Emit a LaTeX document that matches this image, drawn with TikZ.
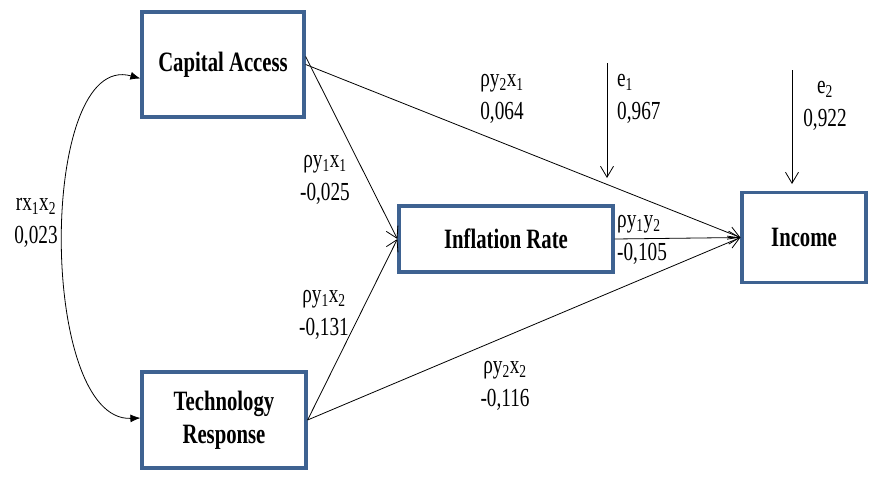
\documentclass[tikz,border=0pt]{standalone}
\usepackage{fontspec}
\setmainfont[FakeStretch=0.74]{Liberation Serif}
\usetikzlibrary{arrows.meta,calc}
\definecolor{boxblue}{RGB}{62,98,145}
\begin{document}
\begin{tikzpicture}[x=1pt,y=-1pt,
  varbox/.style={draw=boxblue,line width=3.2pt,fill=white,align=center,inner sep=0pt,
    font=\fontsize{28}{33}\selectfont\bfseries},
  path/.style={line width=0.8pt,-{Straight Barb[length=11pt,width=13pt]}},
  lab/.style={align=center,inner sep=0pt,font=\fontsize{26}{33}\selectfont},
  labl/.style={align=left,inner sep=0pt,anchor=west,font=\fontsize{26}{33}\selectfont}]
\useasboundingbox (0,0) rectangle (876,477);
\node[varbox,minimum width=162pt,minimum height=105pt] (ca) at (223,64.5) {Capital Access};
\node[varbox,minimum width=214pt,minimum height=66pt] (inf) at (506,239) {Inflation Rate};
\node[varbox,minimum width=124pt,minimum height=90pt] (inc) at (804,237.5) {Income};
\node[varbox,minimum width=164pt,minimum height=96pt] (tr) at (224,420) {Technology\\Response};
% correlation
\draw[line width=0.8pt,{Latex[length=10pt,width=8pt]}-{Latex[length=10pt,width=8pt]}]
  ([yshift=-14pt]ca.west) .. controls (38,50) and (38,422) .. ([yshift=2pt]tr.west);
% paths
\draw[path] (ca.east) -- (inc.west);
\draw[path] ([yshift=8pt]ca.east) -- (inf.west);
\draw[path] (tr.east) -- (inf.west);
\draw[path] (tr.east) -- (inc.west);
\draw[path] (inf.east) -- (inc.west);
% residuals
\coordinate (e1s) at (607,63);
\coordinate (e1e) at (607,178);
\coordinate (e2s) at (792,70);
\coordinate (e2e) at (792,184);
\draw[path] (e1s) -- (e1e);
\draw[path] (e2s) -- (e2e);
% labels
\node[lab] (lr) at (36,223) {rx\textsubscript{1}x\textsubscript{2}\\0,023};
\node[lab] (l11) at (325,180) {ρy\textsubscript{1}x\textsubscript{1}\\-0,025};
\node[lab] (l21) at (502,99) {ρy\textsubscript{2}x\textsubscript{1}\\0,064};
\node[labl] (le1) at (617,99) {e\textsubscript{1}\\0,967};
\node[lab] (le2) at (825,106) {e\textsubscript{2}\\0,922};
\node[labl] (lyy) at (617,240) {ρy\textsubscript{1}y\textsubscript{2}\\-0,105};
\node[lab] (l12) at (324,315) {ρy\textsubscript{1}x\textsubscript{2}\\-0,131};
\node[lab] (l22) at (505,386) {ρy\textsubscript{2}x\textsubscript{2}\\-0,116};
\end{tikzpicture}
\end{document}
